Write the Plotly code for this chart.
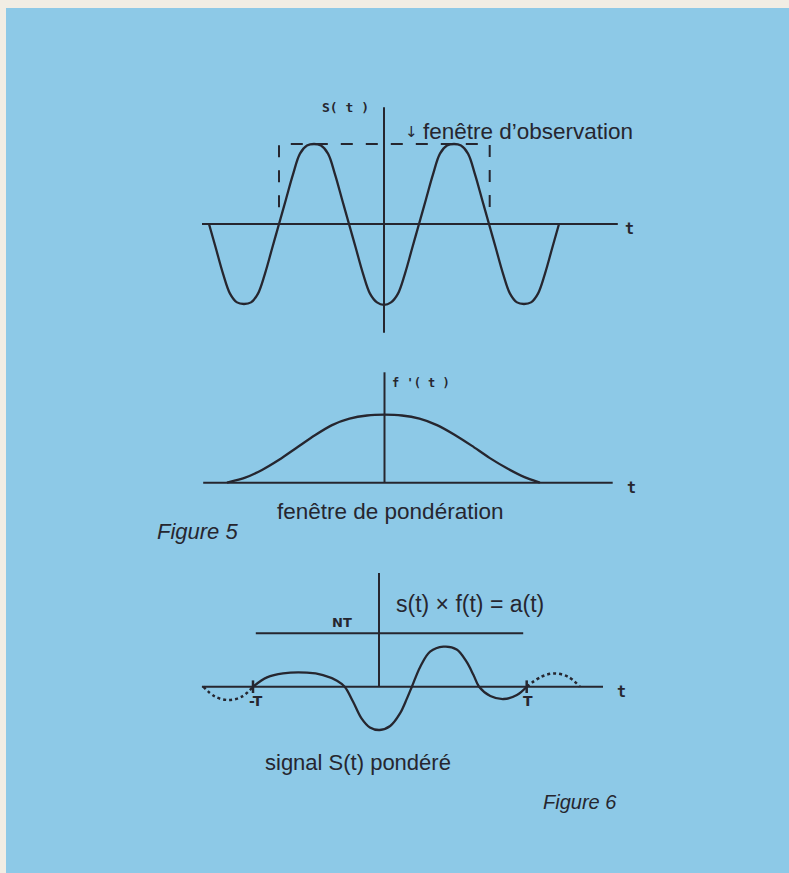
import plotly.graph_objects as go
from plotly.subplots import make_subplots

# --- data (t in half-periods, amplitude in units of the top signal) ---
# figure 5, top: observed signal s(t)
t_signal = [-2.5, -2.4, -2.3, -2.2, -2.1, -2.0, -1.9, -1.8, -1.7, -1.6,
            -1.5, -1.4, -1.3, -1.2, -1.1, -1.0, -0.9, -0.8, -0.7, -0.6,
            -0.5, -0.4, -0.3, -0.2, -0.1, 0.0, 0.1, 0.2, 0.3, 0.4,
            0.5, 0.6, 0.7, 0.8, 0.9, 1.0, 1.1, 1.2, 1.3, 1.4,
            1.5, 1.6, 1.7, 1.8, 1.9, 2.0, 2.1, 2.2, 2.3, 2.4, 2.5]
s_signal = [0, -0.31, -0.62, -0.87, -0.98, -1.00, -0.98, -0.87, -0.62, -0.31,
            0, 0.31, 0.62, 0.88, 0.98, 1.00, 0.98, 0.88, 0.62, 0.31,
            0, -0.31, -0.62, -0.87, -0.98, -1.01, -0.98, -0.87, -0.62, -0.31,
            0, 0.31, 0.62, 0.88, 0.98, 1.00, 0.98, 0.88, 0.62, 0.31,
            0, -0.31, -0.62, -0.87, -0.98, -1.00, -0.98, -0.87, -0.62, -0.31, 0]

# observation window (dashed box)
window_t = [-1.5, -1.5, 1.51, 1.51]
window_s = [0.21, 1.0, 1.0, 0.21]

# figure 5, middle: weighting window f'(t)
t_weight = [-2.25, -2.0, -1.75, -1.5, -1.25, -1.0, -0.75, -0.5, -0.25, 0.0,
            0.25, 0.5, 0.75, 1.0, 1.25, 1.5, 1.75, 2.0, 2.22]
f_weight = [0, 0.06, 0.16, 0.29, 0.44, 0.59, 0.72, 0.80, 0.84, 0.85,
            0.84, 0.80, 0.72, 0.60, 0.46, 0.31, 0.18, 0.07, 0]

# figure 6: weighted signal a(t) between -T and T
t_weighted = [-1.80, -1.60, -1.37, -1.03, -0.80, -0.60, -0.49, -0.37, -0.25,
              -0.13, 0.01, 0.16, 0.30, 0.40, 0.47, 0.59, 0.73, 0.92, 1.11,
              1.25, 1.35, 1.43, 1.59, 1.78, 1.97, 2.11]
a_weighted = [0, 0.116, 0.166, 0.175, 0.146, 0.075, 0, -0.188, -0.396,
              -0.509, -0.541, -0.491, -0.334, -0.146, 0, 0.25, 0.4375, 0.50, 0.466,
              0.3125, 0.146, 0, -0.116, -0.154, -0.104, 0]

# dotted continuation outside the window
t_out_left = [-2.51, -2.34, -2.15, -1.96, -1.80]
a_out_left = [0, -0.125, -0.166, -0.125, 0]
t_out_right = [2.11, 2.32, 2.51, 2.70, 2.87]
a_out_right = [0, 0.125, 0.166, 0.125, 0]

period_marks = [-1.80, 2.11]
period_labels = ['-T', 'T']

# --- layout helpers (pixels of the 789x873 page) ---
W, H = 789, 873
SX, SY = 70.0, 80.0          # px per unit on t and amplitude
INK = '#26262f'
BLUE = '#8dc9e7'
CREAM = '#f1ede4'


def px(x, y):
    return x / W, 1 - y / H


def panel(cx, cy, top, bottom):
    """axis ranges + domain so that (0,0) lands on pixel (cx, cy)"""
    xr = [-cx / SX, (W - cx) / SX]
    yr = [(cy - bottom) / SY, (cy - top) / SY]
    dom = [1 - bottom / H, 1 - top / H]
    return xr, yr, dom


panels = [
    panel(384, 224, 95, 345),
    panel(384.5, 482.7, 355, 500),
    panel(379, 686.7, 560, 745),
]

fig = make_subplots(rows=3, cols=1)

line = dict(color=INK, width=2.3)

fig.add_trace(go.Scatter(x=t_signal, y=s_signal, mode='lines', line=dict(line, shape='spline', smoothing=1.0)), row=1, col=1)
fig.add_trace(go.Scatter(x=window_t, y=window_s, mode='lines', line=dict(color=INK, width=2, dash='12px,13px')), row=1, col=1)
fig.add_trace(go.Scatter(x=t_weight, y=f_weight, mode='lines', line=dict(line, shape='spline', smoothing=0.5)), row=2, col=1)
fig.add_trace(go.Scatter(x=t_weighted, y=a_weighted, mode='lines', line=dict(line, shape='spline', smoothing=1.0)), row=3, col=1)
for tx, ay in [(t_out_left, a_out_left), (t_out_right, a_out_right)]:
    fig.add_trace(go.Scatter(x=tx, y=ay, mode='lines',
                             line=dict(color=INK, width=2.5, dash='dot', shape='spline', smoothing=1)), row=3, col=1)
fig.add_trace(go.Scatter(x=period_marks, y=[0, 0], mode='markers',
                         marker=dict(symbol='line-ns-open', size=9, color=INK,
                                     line=dict(color=INK, width=2.5))), row=3, col=1)
for t, lab in zip(period_marks, period_labels):
    fig.add_annotation(x=t, y=-0.18, xref='x3', yref='y3', text=f'<b>{lab}</b>', showarrow=False,
                       xanchor='center', yanchor='middle', xshift=3 if lab == '-T' else 1,
                       font=dict(family='DejaVu Sans', size=14, color=INK))

# axes of each sketch (extents in data units)
axis_lines = [
    # (row, x0, x1, y0, y1)
    (1, -2.6, 3.34, 0, 0), (1, 0, 0, -1.36, 1.46),
    (2, -2.59, 3.26, 0, 0), (2, 0, 0, 0, 1.38),
    (3, -2.53, 3.2, 0, 0), (3, 0, 0, 0, 1.42),
    (3, -1.76, 2.06, 0.668, 0.668),
]
for r, x0, x1, y0, y1 in axis_lines:
    fig.add_shape(type='line', x0=x0, x1=x1, y0=y0, y1=y1, line=dict(color=INK, width=2),
                  row=r, col=1)

# page background: cream edge + blue panel
fig.add_shape(type='rect', xref='paper', yref='paper', x0=6 / W, x1=1, y0=0, y1=1 - 8 / H,
              fillcolor=BLUE, line_width=0, layer='below')

sans = 'Liberation Sans, Arial, Helvetica, sans-serif'
mono = 'DejaVu Sans Mono, monospace'
bold = 'DejaVu Sans, sans-serif'
notes = [
    # text, x px, y px, font, size, italic, anchor
    ('S( t )', 345, 107, mono, 13, False, 'center'),
    ('t', 629, 229, mono, 15, False, 'center'),
    ('↓', 411, 132, bold, 15, False, 'center'),
    ('fenêtre d’observation', 421, 131, sans, 22.5, False, 'left'),
    ("f '( t )", 421, 383, mono, 12, False, 'center'),
    ('t', 631, 488, mono, 15, False, 'center'),
    ('fenêtre de pondération', 390, 511, sans, 22.5, False, 'center'),
    ('Figure 5', 198, 531, sans, 22, True, 'center'),
    ('NT', 342, 622, bold, 13, False, 'center'),
    ('s(t) × f(t) = a(t)', 470, 604, sans, 23, False, 'center'),
    ('t', 621, 692, mono, 15, False, 'center'),
    ('signal S(t) pondéré', 358, 762, sans, 22, False, 'center'),
    ('Figure 6', 580, 802, sans, 20, True, 'center'),
]
for text, x, y, fam, size, ital, anchor in notes:
    xp, yp = px(x, y)
    if ital:
        text = f'<i>{text}</i>'
    if fam in (mono, bold) and text != '↓':
        text = f'<b>{text}</b>'
    fig.add_annotation(x=xp, y=yp, xref='paper', yref='paper', text=text, showarrow=False,
                       xanchor=anchor, yanchor='middle',
                       font=dict(family=fam, size=size, color=INK))

for i, (xr, yr, dom) in enumerate(panels, start=1):
    fig.update_xaxes(range=xr, domain=[0, 1], visible=False, row=i, col=1)
    fig.update_yaxes(range=yr, domain=dom, visible=False, row=i, col=1)

fig.update_layout(
    width=W, height=H,
    margin=dict(l=0, r=0, t=0, b=0),
    paper_bgcolor=CREAM,
    plot_bgcolor='rgba(0,0,0,0)',
    showlegend=False,
)

# drop the browser's default body margin so the page is drawn from the corner
fig.write_html("out.html", config={'displayModeBar': False},
               post_script="document.body.style.margin='0px';")
